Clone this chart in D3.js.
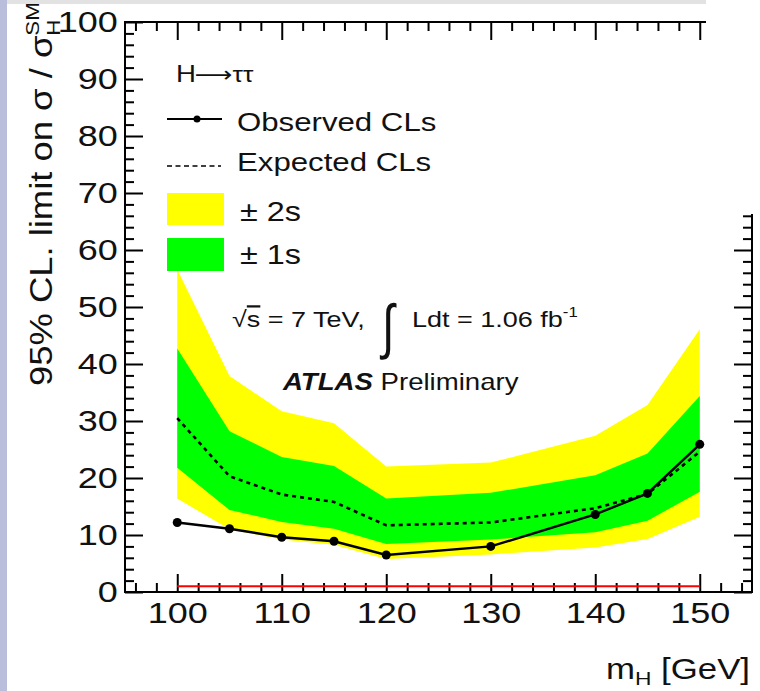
<!DOCTYPE html>
<html><head><meta charset="utf-8">
<script src="https://cdn.jsdelivr.net/npm/d3@7/dist/d3.min.js"></script>
<style>html,body{margin:0;padding:0;background:#fff;overflow:hidden}</style>
</head><body>
<svg id="c" width="760" height="691"></svg>
<script>
// ---------------- data ----------------
const masses   = [100, 105, 110, 115, 120, 130, 140, 145, 150];
const observed = [12.2, 11.1, 9.6, 8.9, 6.5, 8.0, 13.6, 17.3, 25.9];
const expected = [30.5, 20.3, 17.1, 15.8, 11.7, 12.2, 14.7, 17.2, 24.6];
const minus1s  = [21.8, 14.4, 12.3, 11.1, 8.4, 9.2, 10.5, 12.5, 17.6];
const plus1s   = [42.7, 28.2, 23.7, 22.1, 16.4, 17.4, 20.5, 24.3, 34.4];
const minus2s  = [16.4, 11.0, 9.2, 8.3, 5.8, 6.6, 7.8, 9.3, 13.2];
const plus2s   = [56.6, 37.9, 31.7, 29.6, 22.0, 22.7, 27.4, 32.8, 46.1];
const smLevel  = 1;
const xMajorTicks = [100, 110, 120, 130, 140, 150];
const xMinorTicks = d3.range(96, 155, 2).filter(v => v % 10 !== 0);
const yMajorTicks = [0, 10, 20, 30, 40, 50, 60, 70, 80, 90, 100];
const yMinorTicks = d3.range(2, 100, 2).filter(v => v % 10 !== 0);
const legendLabels = ["Observed CLs", "Expected CLs", "\u00B1 2s", "\u00B1 1s"];

// ---------------- setup ----------------
const FONT = "'Liberation Sans', Arial, Helvetica, sans-serif";
const SX = 1.2;
const svg = d3.select("#c");
const x = d3.scaleLinear().domain([95, 155]).range([125, 752]);
const y = d3.scaleLinear().domain([0, 100]).range([592, 22]);

const rows = masses.map((m, i) => ({
  m, obs: observed[i], exp: expected[i],
  l1: minus1s[i], h1: plus1s[i], l2: minus2s[i], h2: plus2s[i]
}));

// page decorations (slide background remnants)
svg.append("rect").attr("x", 0).attr("y", 0).attr("width", 7).attr("height", 691).attr("fill", "#b9bedd");
svg.append("rect").attr("x", 7).attr("y", 0).attr("width", 700).attr("height", 4).attr("fill", "#e2e2e2");

// bands
svg.append("path").datum(rows).attr("fill", "#ffff00")
  .attr("d", d3.area().x(d => x(d.m)).y0(d => y(d.l2)).y1(d => y(d.h2)));
svg.append("path").datum(rows).attr("fill", "#00ff00")
  .attr("d", d3.area().x(d => x(d.m)).y0(d => y(d.l1)).y1(d => y(d.h1)));

// axes
function styleAxis(g) {
  g.select(".domain").remove();
  g.selectAll(".tick line").attr("stroke", "#000").attr("stroke-width", 2);
  g.selectAll("text").attr("fill", "#111").attr("font-family", FONT).attr("font-size", 30)
    .attr("transform", `scale(${SX},1)`);
}
const fmt = d3.format("d");
svg.append("g").attr("transform", `translate(0,${y(0)})`)
  .call(d3.axisBottom(x).tickValues(xMajorTicks).tickSizeInner(-18).tickSizeOuter(0).tickPadding(10).tickFormat(fmt))
  .call(styleAxis);
svg.append("g").attr("transform", `translate(0,${y(0)})`)
  .call(d3.axisBottom(x).tickValues(xMinorTicks).tickSizeInner(-9).tickSizeOuter(0).tickFormat(""))
  .call(styleAxis);
svg.append("g").attr("transform", `translate(0,${y(100)})`)
  .call(d3.axisTop(x).tickValues(xMajorTicks).tickSizeInner(-18).tickSizeOuter(0).tickFormat(""))
  .call(styleAxis);
svg.append("g").attr("transform", `translate(0,${y(100)})`)
  .call(d3.axisTop(x).tickValues(xMinorTicks).tickSizeInner(-9).tickSizeOuter(0).tickFormat(""))
  .call(styleAxis);
svg.append("g").attr("transform", `translate(${x(95)},0)`)
  .call(d3.axisLeft(y).tickValues(yMajorTicks).tickSizeInner(-18).tickSizeOuter(0).tickPadding(6).tickFormat(fmt))
  .call(styleAxis);
svg.append("g").attr("transform", `translate(${x(95)},0)`)
  .call(d3.axisLeft(y).tickValues(yMinorTicks).tickSizeInner(-9).tickSizeOuter(0).tickFormat(""))
  .call(styleAxis);
svg.append("g").attr("transform", `translate(${x(155)},0)`)
  .call(d3.axisRight(y).tickValues(yMajorTicks).tickSizeInner(-18).tickSizeOuter(0).tickFormat(""))
  .call(styleAxis);
svg.append("g").attr("transform", `translate(${x(155)},0)`)
  .call(d3.axisRight(y).tickValues(yMinorTicks).tickSizeInner(-9).tickSizeOuter(0).tickFormat(""))
  .call(styleAxis);
svg.append("rect").attr("x", x(95)).attr("y", y(100))
  .attr("width", x(155) - x(95)).attr("height", y(0) - y(100))
  .attr("fill", "none").attr("stroke", "#000").attr("stroke-width", 2);

// SM reference line
svg.append("path").datum(d3.extent(masses)).attr("fill", "none").attr("stroke", "#ff0000").attr("stroke-width", 2)
  .attr("d", d3.line().x(d => x(d)).y(() => y(smLevel)));

// expected & observed
svg.append("path").datum(rows).attr("fill", "none").attr("stroke", "#000")
  .attr("stroke-width", 2.6).attr("stroke-dasharray", "4,4")
  .attr("d", d3.line().x(d => x(d.m)).y(d => y(d.exp)));
svg.append("path").datum(rows).attr("fill", "none").attr("stroke", "#000").attr("stroke-width", 2.4)
  .attr("d", d3.line().x(d => x(d.m)).y(d => y(d.obs)));
svg.append("g").selectAll("circle").data(rows).join("circle")
  .attr("cx", d => x(d.m)).attr("cy", d => y(d.obs)).attr("r", 4.5).attr("fill", "#000");

// white patch covering the top-right corner (as in the original slide)
svg.append("rect").attr("x", 706).attr("y", 0).attr("width", 54).attr("height", 214).attr("fill", "#fff");

// text helper
function stext(x0, y0, size, anchor) {
  return svg.append("text").attr("transform", `translate(${x0},${y0}) scale(${SX},1)`)
    .attr("font-size", size).attr("font-family", FONT).attr("fill", "#111")
    .attr("text-anchor", anchor || "start");
}

// legend
const ht = stext(176, 82, 23);
ht.append("tspan").text("H");
ht.append("tspan").attr("font-family", "'DejaVu Sans', sans-serif").attr("font-size", 22).attr("dx", -1).text("\u27F6");
ht.append("tspan").attr("font-size", 22).text("\u03C4\u03C4");
svg.append("line").attr("x1", 167).attr("x2", 222).attr("y1", 119).attr("y2", 119).attr("stroke", "#000").attr("stroke-width", 2);
svg.append("circle").attr("cx", 197).attr("cy", 119).attr("r", 3.5).attr("fill", "#000");
stext(237, 131, 26).text(legendLabels[0]);
svg.append("line").attr("x1", 167).attr("x2", 221).attr("y1", 166).attr("y2", 166).attr("stroke", "#000")
  .attr("stroke-width", 1.6).attr("stroke-dasharray", "5,3.5");
stext(237, 171, 26).text(legendLabels[1]);
svg.append("rect").attr("x", 167).attr("y", 193).attr("width", 57).attr("height", 32).attr("fill", "#ffff00");
stext(240, 221, 27).text(legendLabels[2]);
svg.append("rect").attr("x", 167).attr("y", 238).attr("width", 57).attr("height", 33).attr("fill", "#00ff00");
stext(240, 264, 27).text(legendLabels[3]);

// annotations
const t1 = stext(232, 327, 22.5);
t1.append("tspan").text("\u221A");
t1.append("tspan").attr("text-decoration", "overline").text("s");
t1.append("tspan").text(" = 7 TeV,");
svg.append("text").attr("x", 382).attr("y", 347).attr("font-size", 60).attr("font-family", "'DejaVu Sans', sans-serif")
  .attr("font-weight", "200").attr("fill", "#111").attr("transform", "translate(382,347) scale(0.75,1) translate(-382,-347)")
  .text("\u222B");
const t2 = stext(412, 327, 22.5);
t2.append("tspan").text("Ldt = 1.06 fb");
t2.append("tspan").attr("font-size", 14).attr("dy", -10).text("-1");
const t3 = stext(283, 390, 23);
t3.append("tspan").attr("font-weight", "bold").attr("font-style", "italic").text("ATLAS");
t3.append("tspan").text(" Preliminary");

// x-axis title
const xt = stext(750, 679, 29, "end");
xt.append("tspan").text("m");
xt.append("tspan").attr("font-size", 19).attr("dy", 6).text("H");
xt.append("tspan").attr("dy", -6).text(" [GeV]");

// y-axis title (rotated)
const yt = svg.append("text").attr("font-size", 31).attr("font-family", FONT).attr("fill", "#111");
yt.append("tspan").text("95% CL. limit on \u03C3 / \u03C3");
const sm = yt.append("tspan").attr("font-size", 19).attr("dy", -13).text("SM");
const smW = sm.node().getComputedTextLength();
yt.append("tspan").attr("font-size", 19).attr("dx", -smW).attr("dy", 21).text("H");
const natural = yt.node().getBBox().width;
const fitScale = 384 / natural;
yt.attr("transform", `translate(52,386) rotate(-90) scale(${fitScale},1)`);
</script>
</body></html>
